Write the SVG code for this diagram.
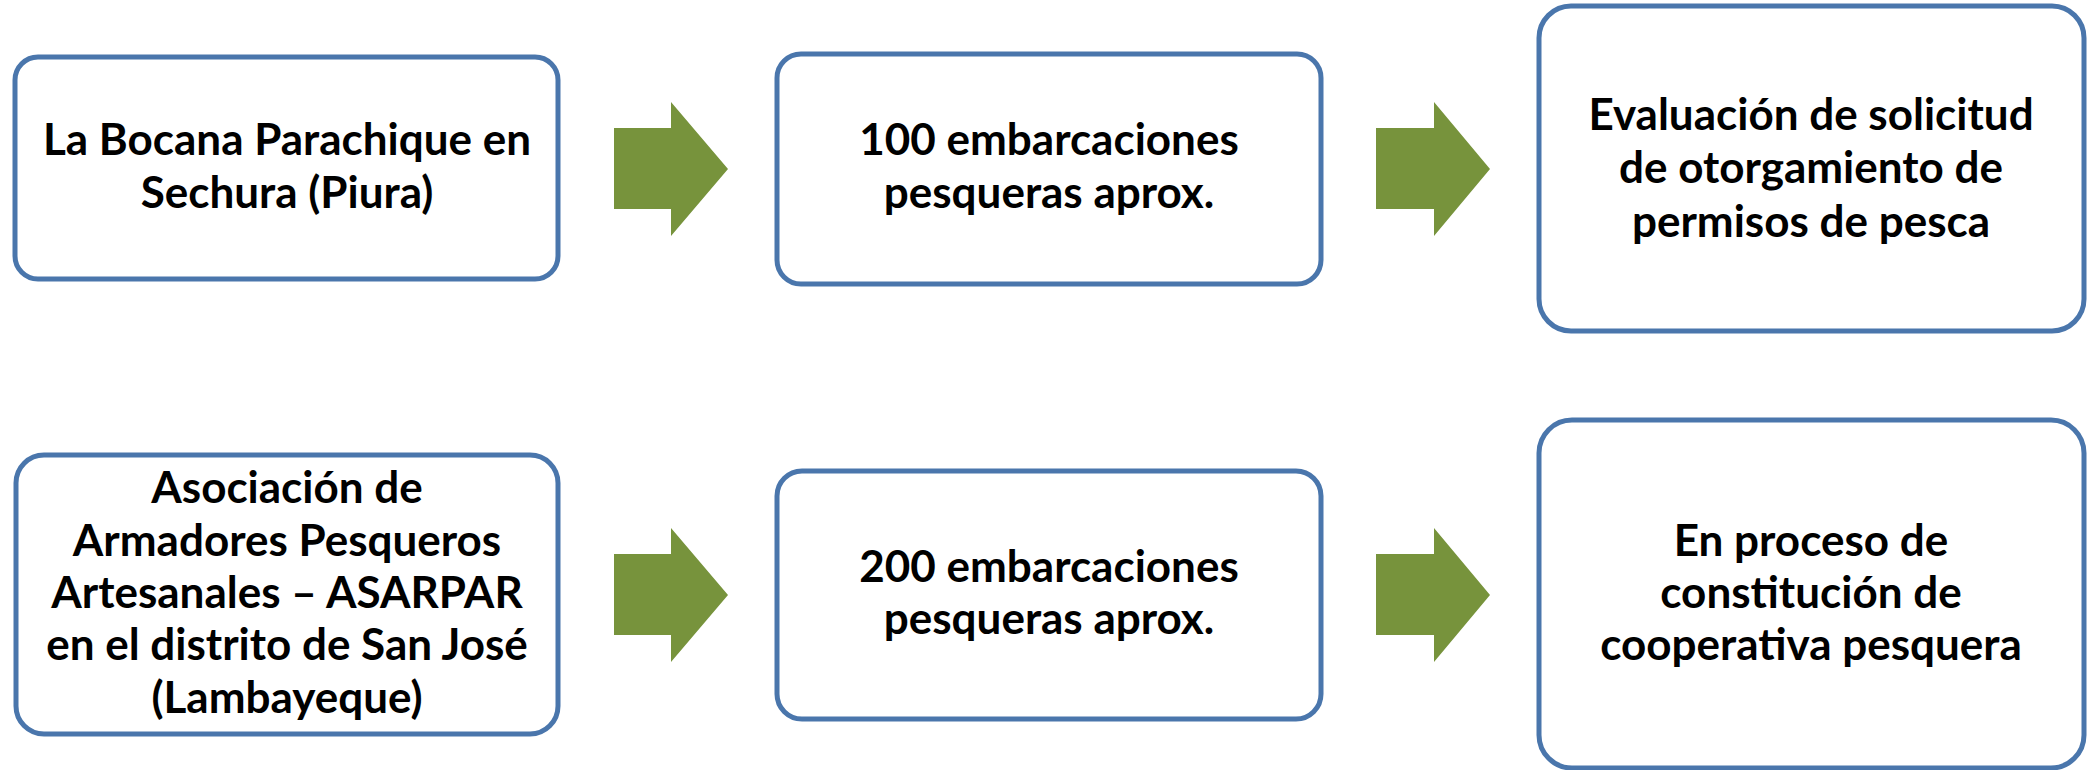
<svg xmlns="http://www.w3.org/2000/svg" width="2092" height="770" viewBox="0 0 2092 770">
<style>
.box{fill:#ffffff;stroke:#4A76AC;stroke-width:5}
.arr{fill:#77933C}
.t{font-family:Lato,"Liberation Sans",sans-serif;font-weight:700;font-size:44px;fill:#000;text-anchor:middle}
</style>
<rect width="2092" height="770" fill="#ffffff"/>
<g id="connectors">
<polygon class="arr" points="614,128 671,128 671,102 728,169 671,236 671,209 614,209"/>
<polygon class="arr" points="1376,128 1434,128 1434,102 1490,169 1434,236 1434,209 1376,209"/>
<polygon class="arr" points="614,554 671,554 671,528 728,595 671,662 671,635 614,635"/>
<polygon class="arr" points="1376,554 1434,554 1434,528 1490,595 1434,662 1434,635 1376,635"/>
</g>
<g id="n1">
<rect class="box" x="15" y="57" width="543" height="222" rx="23"/>
<text class="t" x="287" y="155">La Bocana Parachique en</text>
<text class="t" x="287" y="208">Sechura (Piura)</text>
</g>
<g id="n2">
<rect class="box" x="777" y="54" width="544" height="230" rx="24"/>
<text class="t" x="1049" y="155">100 embarcaciones</text>
<text class="t" x="1049" y="208">pesqueras aprox.</text>
</g>
<g id="n3">
<rect class="box" x="1539" y="6" width="545" height="325" rx="32"/>
<text class="t" x="1811" y="130">Evaluación de solicitud</text>
<text class="t" x="1811" y="183">de otorgamiento de</text>
<text class="t" x="1811" y="237">permisos de pesca</text>
</g>
<g id="n4">
<rect class="box" x="16" y="455" width="542" height="279" rx="28"/>
<text class="t" x="287" y="503">Asociación de</text>
<text class="t" x="287" y="556">Armadores Pesqueros</text>
<text class="t" x="287" y="608">Artesanales – ASARPAR</text>
<text class="t" x="287" y="660">en el distrito de San José</text>
<text class="t" x="287" y="713">(Lambayeque)</text>
</g>
<g id="n5">
<rect class="box" x="777" y="471" width="544" height="248" rx="25"/>
<text class="t" x="1049" y="582">200 embarcaciones</text>
<text class="t" x="1049" y="634">pesqueras aprox.</text>
</g>
<g id="n6">
<rect class="box" x="1539" y="420" width="545" height="348" rx="33"/>
<text class="t" x="1811" y="556">En proceso de</text>
<text class="t" x="1811" y="608">constitución de</text>
<text class="t" x="1811" y="660">cooperativa pesquera</text>
</g>
</svg>
